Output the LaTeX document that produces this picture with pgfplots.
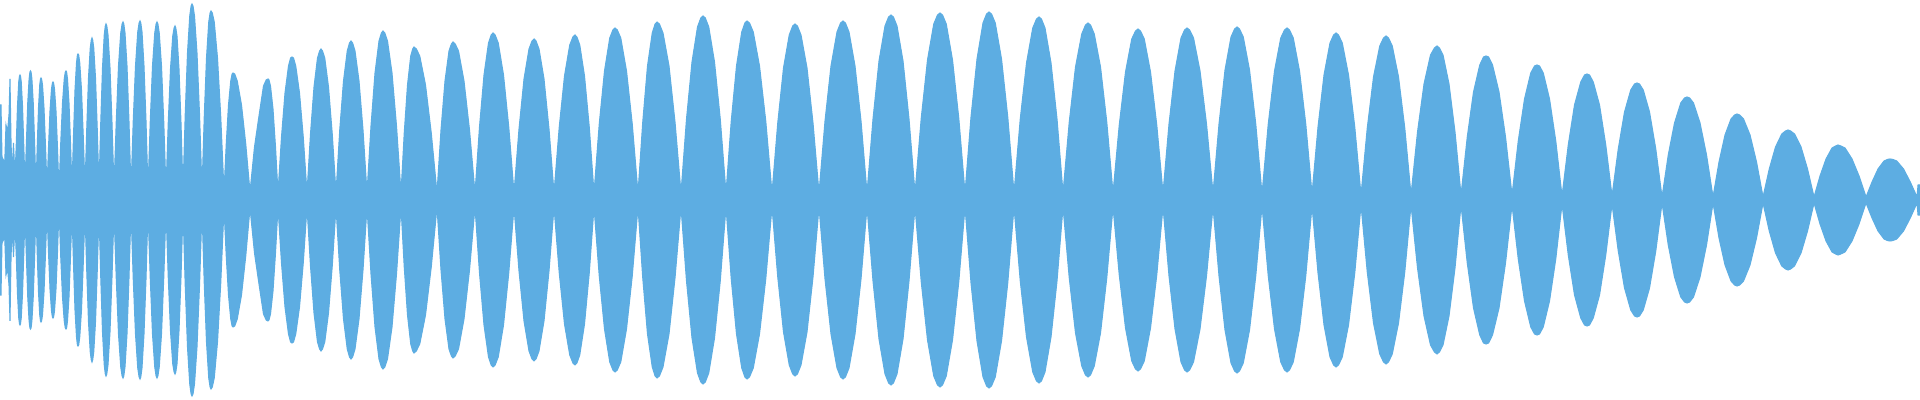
\documentclass[border=0pt]{standalone}
\usepackage{pgfplots}
\pgfplotsset{compat=1.18}
\usepackage{pgfplotstable}

\definecolor{wave}{HTML}{5DADE2}

% envelope of the waveform: x in px, a = half height in px
\pgfplotstableread{
x a
0 95
1 95
2 43
3.5 40
4 20
5 45
6 75
7.5 68
9 85
10 121
11 60
12 25
13.5 57
15 22
16.25 55
17.5 94
18.75 118
19.5 124
20 125
20.5 124
21.25 118
22.5 94
23.75 55
25 15
26.4 57
27.75 97
29.1 121
29.95 128
30.5 129
31.05 128
31.9 121
33.25 97
34.6 57
36 12
37.25 54
38.5 92
39.75 115
40.5 121
41 122
41.6 121
42.5 115
44 92
45.5 54
47 12
48.5 52
50 89
51.5 111
52.4 117
53 118
53.6 117
54.5 111
56 89
57.5 52
59 8
60.75 57
62.5 97
64.25 121
65.3 128
66 129
66.6 128
67.5 121
69 97
70.5 57
72 12
73.5 64
75 110
76.5 137
77.4 145
78 146
78.7 145
79.75 137
81.5 110
83.25 64
85 12
86.75 71
88.5 122
90.25 152
91.3 160
92 162
92.7 160
93.75 152
95.5 122
97.25 71
99 12
100.75 77
102.5 132
104.25 165
105.3 174
106 176
106.8 174
108 165
110 132
112 77
114 12
116.25 78
118.5 134
120.75 167
122.1 176
123 178
123.8 176
125 167
127 134
129 78
131 10
133.25 79
135.5 134
137.75 168
139.1 177
140 179
140.8 177
142 168
144 134
146 79
148 10
150.25 78
152.5 134
154.75 167
156.1 176
157 178
157.9 176
159.25 167
161.5 134
163.75 78
166 10
168.25 77
170.5 131
172.75 164
174.1 172
175 174
175.8 172
177 164
179 131
181 77
183 10
185.25 86
187.5 147
189.75 184
191.1 194
192 196
193 194
194.5 184
197 147
199.5 86
202 10
204.25 83
206.5 142
208.75 178
210.1 187
211 189
212.3 187
214.25 178
217.5 142
220.75 83
224 8
226.25 56
228.5 95
230.75 119
232.1 126
233 127
234.7 126
237.25 119
241.5 95
245.75 56
250 8
254.5 53
259 84
263.5 114
266.2 120
268 121
269 120
270.5 114
273 91
275.5 53
278 7
281.5 63
285 107
288.5 134
290.6 142
292 143
293.5 142
295.75 134
299.5 107
303.25 63
307 7
310.5 66
314 113
317.5 142
319.6 149
321 151
322.5 149
324.75 142
328.5 113
332.25 66
336 7
339.75 70
343.5 119
347.25 149
349.5 157
351 159
352.6 157
355 149
359 119
363 70
367 7
371 74
375 127
379 159
381.4 167
383 169
384.8 167
387.5 159
392 127
396.5 74
401 7
404.25 67
407.5 115
410.75 144
412.7 151
414 153
416.3 151
419.75 144
425.5 115
431.25 67
437 7
441 70
445 119
449 149
451.4 156
453 158
455.2 156
458.5 149
464 119
469.5 70
475 7
479.5 73
484 125
488.5 157
491.2 165
493 167
495.1 165
498.25 157
503.5 125
508.75 73
514 7
519 71
524 121
529 151
532 159
534 161
536 159
539 151
544 121
549 71
554 7
559.25 73
564.5 124
569.75 155
572.9 163
575 165
576.9 163
579.75 155
584.5 124
589.25 73
594 7
599.25 76
604.5 129
609.75 162
612.9 170
615 172
617.3 170
620.75 162
626.5 129
632.25 76
638 7
642.75 78
647.5 134
652.25 167
655.1 176
657 178
659.4 176
663 167
669 134
675 78
681 7
686.5 81
692 138
697.5 173
700.8 182
703 184
705.3 182
708.75 173
714.5 138
720.25 81
726 7
731.25 79
736.5 134
741.75 168
744.9 177
747 179
749.5 177
753.25 168
759.5 134
765.75 79
772 7
777.75 77
783.5 132
789.25 165
792.7 174
795 176
797.4 174
801 165
807 132
813 77
819 7
825 79
831 134
837 168
840.6 177
843 179
845.4 177
849 168
855 134
861 79
867 7
873 81
879 139
885 174
888.6 183
891 185
893.4 183
897 174
903 139
909 81
915 7
921.25 82
927.5 140
933.75 176
937.5 185
940 187
942.5 185
946.25 176
952.5 140
958.75 82
965 7
971 83
977 141
983 177
986.6 186
989 188
991.5 186
995.25 177
1001.5 141
1007.75 83
1014 7
1020.25 81
1026.5 137
1032.75 172
1036.5 181
1039 183
1041.4 181
1045 172
1051 137
1057 81
1063 7
1069.25 78
1075.5 133
1081.75 166
1085.5 175
1088 177
1090.5 175
1094.25 166
1100.5 133
1106.75 78
1113 7
1119.25 75
1125.5 128
1131.75 161
1135.5 169
1138 171
1140.5 169
1144.25 161
1150.5 128
1156.75 75
1163 7
1169 76
1175 129
1181 162
1184.6 170
1187 172
1189.6 170
1193.5 162
1200 129
1206.5 76
1213 7
1219 76
1225 130
1231 163
1234.6 171
1237 173
1239.5 171
1243.25 163
1249.5 130
1255.75 76
1262 6
1268.25 76
1274.5 129
1280.75 162
1284.5 170
1287 172
1289.5 170
1293.25 162
1299.5 129
1305.75 76
1312 6
1318 73
1324 125
1330 157
1333.6 165
1336 167
1338.5 165
1342.25 157
1348.5 125
1354.75 73
1361 5
1367.25 72
1373.5 123
1379.75 154
1383.5 162
1386 164
1388.5 162
1392.25 154
1398.5 123
1404.75 72
1411 5
1417.5 68
1424 116
1430.5 145
1434.4 152
1437 154
1439.4 152
1443 145
1449 116
1455 68
1461 5
1467.25 63
1473.5 108
1479.75 135
1483.5 143
1486 144
1488.6 143
1492.5 135
1499 108
1505.5 63
1512 5
1518.25 59
1524.5 101
1530.75 127
1534.5 134
1537 135
1539.5 134
1543.25 127
1549.5 101
1555.75 59
1562 4
1568.25 55
1574.5 95
1580.75 118
1584.5 125
1587 126
1589.5 125
1593.25 118
1599.5 95
1605.75 55
1612 4
1618.25 51
1624.5 88
1630.75 110
1634.5 116
1637 117
1639.5 116
1643.25 110
1649.5 88
1655.75 51
1662 3
1668.25 45
1674.5 77
1680.75 97
1684.5 102
1687 103
1689.6 102
1693.5 97
1700 77
1706.5 45
1713 3
1719 38
1725 65
1731 81
1734.6 85
1737 86
1739.6 85
1743.5 81
1750 65
1756.5 38
1763 3
1769.25 31
1775.5 53
1781.75 66
1785.5 69
1788 70
1790.6 69
1794.5 66
1801 53
1807.5 31
1814 3
1820 24
1826 41
1832 52
1835.6 54
1838 55
1840.8 54
1845 52
1852 41
1859 24
1866 3
1872 18
1878 31
1884 39
1887.6 40.6
1890 41
1892.7 40.6
1896.75 39
1903.5 31
1910.25 18
1917 3
1918 15
1920 15
}\wave

\begin{document}
\begin{tikzpicture}
\begin{axis}[
    scale only axis,
    width=19.2cm, height=4cm,
    xmin=0, xmax=1920,
    ymin=-200, ymax=200,
    axis lines=none,
    xtick=\empty, ytick=\empty,
]
\addplot[fill=wave, draw=wave, line width=0.3pt] table[x=x, y=a] {\wave} \closedcycle;
\addplot[fill=wave, draw=wave, line width=0.3pt] table[x=x, y expr=-\thisrow{a}] {\wave} \closedcycle;
\end{axis}
\path (current axis.south west) rectangle (current axis.north east);
\end{tikzpicture}
\end{document}
